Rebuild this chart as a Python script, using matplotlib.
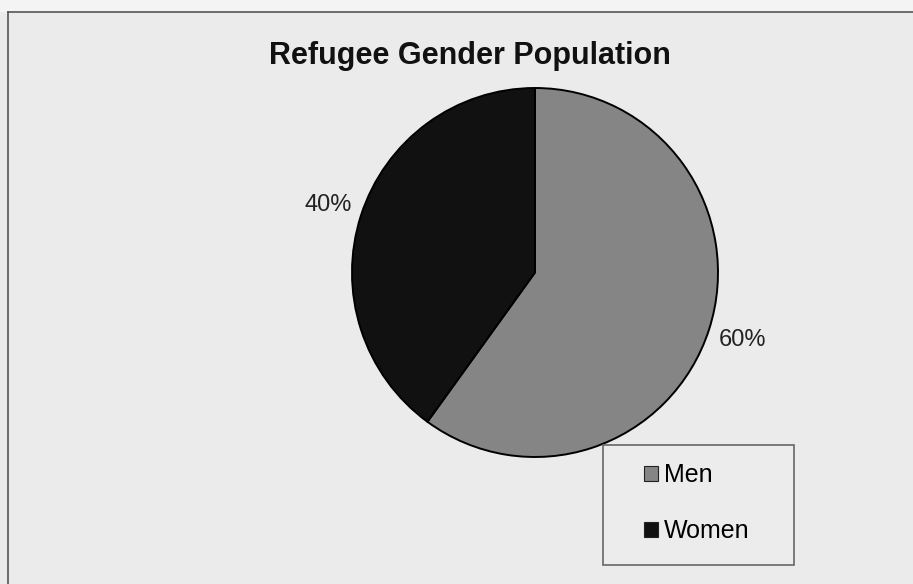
import matplotlib.pyplot as plt
from matplotlib.patches import Rectangle, Patch
from matplotlib.lines import Line2D

plt.rcParams['font.family'] = ['Liberation Sans', 'DejaVu Sans']

title = "Refugee Gender Population"
labels = ["Men", "Women"]
shares = [60, 40]
colors = ["#858585", "#111111"]

W, H = 913, 584
fig = plt.figure(figsize=(W / 100, H / 100), dpi=100)
fig.patch.set_facecolor("#ebebeb")

def fx(px):
    return px / W

def fy(py):
    return 1 - py / H

# scanned frame: top and left border
fig.add_artist(Rectangle((0, fy(12)), 1, 1 - fy(12), transform=fig.transFigure,
                         facecolor="#f4f4f4", edgecolor="none"))
fig.add_artist(Line2D([fx(8), 1], [fy(12), fy(12)], transform=fig.transFigure,
                      color="#555555", lw=1.2))
fig.add_artist(Line2D([fx(8), fx(8)], [fy(12), 0], transform=fig.transFigure,
                      color="#555555", lw=1.2))

fig.text(fx(470), fy(56), title, ha="center", va="center",
         fontsize=22, fontweight="bold", color="#111111")

# pie area
ax = fig.add_axes([fx(352), fy(457), fx(366), 369 / H])
wedges, texts, autotexts = ax.pie(
    shares, colors=colors, startangle=90, counterclock=False,
    autopct="%d%%", pctdistance=1.19,
    wedgeprops=dict(edgecolor="black", linewidth=1.4),
    textprops=dict(fontsize=17, color="#222222"))
ax.set_xlim(-1, 1)
ax.set_ylim(-1, 1)
ax.set_aspect("auto")

# legend box
fig.add_artist(Rectangle((fx(603), fy(565)), fx(794) - fx(603), fy(445) - fy(565),
                         transform=fig.transFigure, facecolor="#ececec",
                         edgecolor="#666666", lw=1.2))
handles = [Patch(facecolor=c, edgecolor="#222222", linewidth=0.8) for c in colors]
fig.legend(handles, labels, loc="upper left", bbox_to_anchor=(fx(644), fy(463)),
           frameon=False, fontsize=18, handlelength=0.55, handleheight=0.55,
           handletextpad=0.25, labelspacing=1.3, borderpad=0, borderaxespad=0)

fig.savefig("out.png", dpi=100, facecolor=fig.get_facecolor())
